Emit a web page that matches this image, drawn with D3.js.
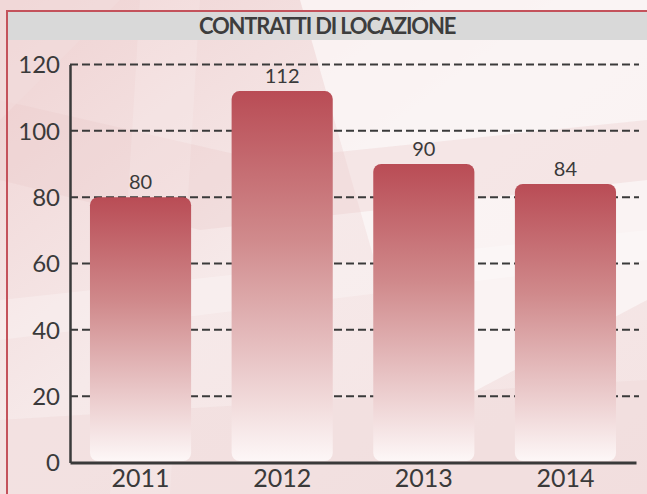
<!DOCTYPE html>
<html><head><meta charset="utf-8">
<script src="https://cdn.jsdelivr.net/npm/d3@7/dist/d3.min.js"></script>
<style>
html,body{margin:0;padding:0;background:#f4e4e4;}
svg{display:block;font-family:Lato,"Open Sans",sans-serif;}
</style></head><body>
<svg id="c" width="647" height="494"></svg>
<script>
const title = "CONTRATTI DI LOCAZIONE";
const categories = ["2011","2012","2013","2014"];
const values = [80,112,90,84];
const yTicks = [0,20,40,60,80,100,120];

const W = 647, H = 494;
const svg = d3.select("#c");
const defs = svg.append("defs");

// background
const bg = defs.append("linearGradient").attr("id","bg").attr("x1",0).attr("y1",0).attr("x2",1).attr("y2",1);
bg.append("stop").attr("offset","0%").attr("stop-color","#efd2d2");
bg.append("stop").attr("offset","45%").attr("stop-color","#f6e9e9");
bg.append("stop").attr("offset","100%").attr("stop-color","#f4e3e3");
svg.append("rect").attr("width",W).attr("height",H).attr("fill","url(#bg)");
const shapes = [
  {pts:[[300,0],[647,0],[647,300],[420,420]], c:"#fbf6f6", o:0.8},
  {pts:[[0,100],[260,160],[647,120],[647,180],[200,230],[0,180]], c:"#ebcbcb", o:0.35},
  {pts:[[0,300],[647,230],[647,260],[0,340]], c:"#fff", o:0.25},
  {pts:[[0,420],[647,380],[647,494],[0,494]], c:"#efd9d9", o:0.5},
  {pts:[[140,0],[200,0],[170,494],[110,494]], c:"#fff", o:0.15},
  {pts:[[0,0],[120,0],[0,120]], c:"#f1dcdc", o:0.6}
];
svg.selectAll("polygon.bgs").data(shapes).join("polygon").attr("class","bgs")
  .attr("points",d=>d.pts.map(p=>p.join(",")).join(" "))
  .attr("fill",d=>d.c).attr("opacity",d=>d.o);

// frame
svg.append("line").attr("x1",7).attr("x2",W).attr("y1",11).attr("y2",11).attr("stroke","#c4525b").attr("stroke-width",2);
svg.append("line").attr("x1",7).attr("x2",7).attr("y1",10).attr("y2",H).attr("stroke","#c4525b").attr("stroke-width",2);
svg.append("rect").attr("x",8).attr("y",12).attr("width",W-8).attr("height",28).attr("fill","#d9d9d9");
svg.append("text").attr("x",327).attr("y",34).attr("text-anchor","middle")
  .attr("font-size",22).attr("font-weight",700).attr("fill","#3d3d3d").attr("letter-spacing","-1.2")
  .text(title);

// scales
const x = d3.scaleBand().domain(categories).range([70,636]).paddingInner(0.286).paddingOuter(0.141);
const y = d3.scaleLinear().domain([0,120]).range([462.5,64.5]);

// gridlines
svg.append("g").selectAll("line").data(yTicks.filter(t=>t>0)).join("line")
  .attr("x1",70).attr("x2",639).attr("y1",d=>y(d)).attr("y2",d=>y(d))
  .attr("stroke","#3a3a3a").attr("stroke-width",2).attr("stroke-dasharray","8,4");

// bar gradients
categories.forEach((c,i)=>{
  const lg = defs.append("linearGradient").attr("id","bar"+i).attr("x1",0).attr("x2",0).attr("y1",0).attr("y2",1);
  lg.append("stop").attr("offset","0%").attr("stop-color","#b94c55");
  lg.append("stop").attr("offset","40%").attr("stop-color","#d08a8c");
  lg.append("stop").attr("offset","100%").attr("stop-color","#fdf7f7");
});

svg.append("g").selectAll("rect").data(values).join("rect")
  .attr("x",(d,i)=>x(categories[i])).attr("width",x.bandwidth())
  .attr("y",d=>y(d)).attr("height",d=>y(0)-y(d)-1.5)
  .attr("rx",8).attr("ry",8)
  .attr("fill",(d,i)=>"url(#bar"+i+")");

svg.append("g").selectAll("text").data(values).join("text")
  .attr("x",(d,i)=>x(categories[i])+x.bandwidth()/2).attr("y",d=>y(d)-8)
  .attr("text-anchor","middle").attr("font-size",20).attr("fill","#3a3a3a").text(d=>d);

// axes
const yAxis = svg.append("g").attr("transform","translate(70,0)")
  .call(d3.axisLeft(y).tickValues(yTicks).tickSize(0).tickPadding(10));
yAxis.select(".domain").attr("stroke","#3a3a3a").attr("stroke-width",2.5);
yAxis.selectAll("text").attr("font-size",24).attr("fill","#3a3a3a").attr("font-family","Lato").attr("dy","0.35em");

const xAxis = svg.append("g").attr("transform","translate(0,"+y(0)+")")
  .call(d3.axisBottom(x).tickSize(0).tickPadding(6));
xAxis.select(".domain").attr("stroke","#3a3a3a").attr("stroke-width",3);
xAxis.selectAll("text").attr("font-size",25).attr("fill","#3a3a3a").attr("font-family","Lato").attr("dy","0.75em");
</script></body></html>
